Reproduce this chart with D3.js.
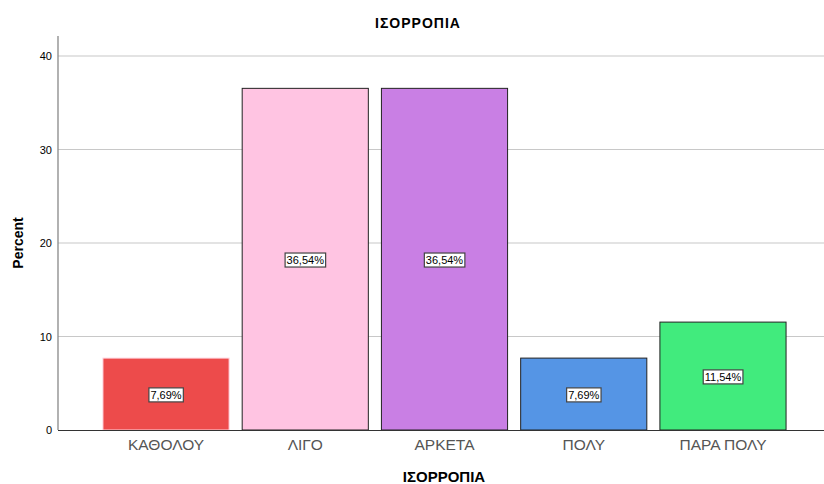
<!DOCTYPE html>
<html>
<head>
<meta charset="utf-8">
<script src="https://cdn.jsdelivr.net/npm/d3@7"></script>
<style>
  body { margin: 0; background: #fff; }
  text { font-family: Arial, "Liberation Sans", sans-serif; }
</style>
</head>
<body>
<svg width="824" height="484"></svg>
<script>
// data
var categories = ["ΚΑΘΟΛΟΥ", "ΛΙΓΟ", "ΑΡΚΕΤΑ", "ΠΟΛΥ", "ΠΑΡΑ ΠΟΛΥ"];
var percents = [7.69, 36.54, 36.54, 7.69, 11.54];
var colors = ["#ed4b4b", "#ffc4e2", "#c97fe4", "#5595e5", "#41eb7d"];
var yTicks = [0, 10, 20, 30, 40];

var svg = d3.select("svg");

var xScale = d3.scaleBand()
  .domain(categories)
  .range([96.4, 792.6])
  .paddingInner(0.094)
  .paddingOuter(0.047);

var yScale = d3.scaleLinear().domain([0, 40]).range([430, 56]);

// gridlines
svg.append("g")
  .selectAll("line")
  .data(yTicks.filter(d => d > 0))
  .enter().append("line")
  .attr("x1", 58).attr("x2", 824)
  .attr("y1", d => yScale(d)).attr("y2", d => yScale(d))
  .attr("stroke", "#c8c8c8")
  .attr("stroke-width", 1.2);

// y axis
var yAxis = d3.axisLeft(yScale).tickValues(yTicks).tickSize(0).tickPadding(6);
var yg = svg.append("g")
  .attr("transform", "translate(58,0)")
  .call(yAxis);
yg.select(".domain").remove();
yg.selectAll("text").attr("font-size", "11px").attr("fill", "#000");
svg.append("line")
  .attr("x1", 58).attr("x2", 58)
  .attr("y1", 36).attr("y2", 430)
  .attr("stroke", "#888").attr("stroke-width", 1.3);

// bars
svg.append("g")
  .selectAll("rect")
  .data(percents)
  .enter().append("rect")
  .attr("x", (d, i) => xScale(categories[i]))
  .attr("width", xScale.bandwidth())
  .attr("y", d => yScale(d))
  .attr("height", d => yScale(0) - yScale(d))
  .attr("fill", (d, i) => colors[i])
  .attr("stroke", (d, i) => i === 0 ? "#ffd6e0" : "#222")
  .attr("stroke-width", 1);

// x axis line
svg.append("line")
  .attr("x1", 58).attr("x2", 824)
  .attr("y1", 430.5).attr("y2", 430.5)
  .attr("stroke", "#333").attr("stroke-width", 1.2);

var xAxis = d3.axisBottom(xScale).tickSize(0).tickPadding(9);
var xg = svg.append("g")
  .attr("transform", "translate(0,430)")
  .call(xAxis);
xg.select(".domain").remove();
xg.selectAll("text").attr("font-size", "15.5px").attr("fill", "#555");

// value labels
var labels = svg.append("g")
  .selectAll("g")
  .data(percents)
  .enter().append("g")
  .attr("transform", (d, i) => "translate(" + (xScale(categories[i]) + xScale.bandwidth() / 2) + "," + (yScale(d / 2) + 1) + ")");

labels.append("text")
  .attr("text-anchor", "middle")
  .attr("dy", "0.35em")
  .attr("font-size", "11px")
  .attr("fill", "#000")
  .text(d => d.toFixed(2).replace(".", ",") + "%");

labels.each(function() {
  var g = d3.select(this);
  var bb = g.select("text").node().getBBox();
  g.insert("rect", "text")
    .attr("x", bb.x - 1.5).attr("y", bb.y - 1)
    .attr("width", bb.width + 3).attr("height", bb.height + 2)
    .attr("fill", "#fff").attr("stroke", "#444").attr("stroke-width", 1.2);
});

// titles
svg.append("text")
  .attr("x", 418).attr("y", 28)
  .attr("text-anchor", "middle")
  .attr("font-size", "14px").attr("font-weight", "bold")
  .attr("letter-spacing", "1px")
  .text("ΙΣΟΡΡΟΠΙΑ");

svg.append("text")
  .attr("x", 444).attr("y", 482)
  .attr("text-anchor", "middle")
  .attr("font-size", "15px").attr("font-weight", "bold")
  .text("ΙΣΟΡΡΟΠΙΑ");

svg.append("text")
  .attr("transform", "translate(23,243) rotate(-90)")
  .attr("text-anchor", "middle")
  .attr("font-size", "14px").attr("font-weight", "bold")
  .text("Percent");
</script>
</body>
</html>
